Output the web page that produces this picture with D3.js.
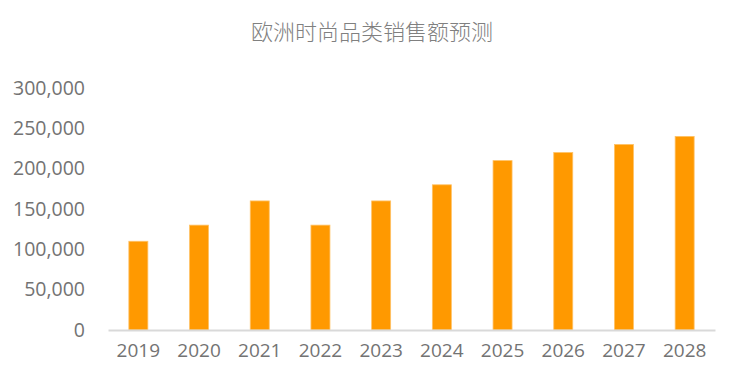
<!DOCTYPE html>
<html>
<head>
<meta charset="utf-8">
<script src="https://cdn.jsdelivr.net/npm/d3@7"></script>
<style>
  body { margin: 0; background: #fff; }
  svg text { font-family: "Open Sans", "Noto Sans", sans-serif; }
</style>
</head>
<body>
<svg id="chart" width="736" height="390"></svg>
<script>
// chart data
var years = ["2019", "2020", "2021", "2022", "2023", "2024", "2025", "2026", "2027", "2028"];
var sales = [110000, 130000, 160000, 130000, 160000, 180000, 210000, 220000, 230000, 240000];
var yTicks = [0, 50000, 100000, 150000, 200000, 250000, 300000];
var title = "欧洲时尚品类销售额预测";

var svg = d3.select("#chart");
var plotLeft = 108, plotRight = 715, plotTop = 88, plotBottom = 330;

var x = d3.scaleBand().domain(years).range([plotLeft, plotRight]).padding(0);
var y = d3.scaleLinear().domain([0, 300000]).range([plotBottom, plotTop]);

// title
svg.append("text")
  .attr("x", 372).attr("y", 40)
  .attr("text-anchor", "middle")
  .style("font-family", "'Noto Sans CJK SC', sans-serif")
  .style("font-size", "22px")
  .style("font-weight", "300")
  .style("fill", "#808080")
  .text(title);

// y axis (labels only)
var yAxis = svg.append("g")
  .attr("transform", "translate(" + (plotLeft - 23) + ",0)")
  .call(d3.axisLeft(y).tickValues(yTicks).tickSize(0).tickPadding(0).tickFormat(d3.format(",")));
yAxis.select(".domain").remove();
yAxis.selectAll("text")
  .style("font-size", "19.5px")
  .style("fill", "#737373");

// bars
var bw = 19;
svg.selectAll("rect.bar")
  .data(years)
  .enter()
  .append("rect")
  .attr("class", "bar")
  .attr("x", function(d) { return x(d) + x.bandwidth() / 2 - bw / 2; })
  .attr("y", function(d, i) { return y(sales[i]); })
  .attr("width", bw)
  .attr("height", function(d, i) { return plotBottom - y(sales[i]); })
  .attr("fill", "#ff9900")
  .attr("stroke", "#ffc266")
  .attr("stroke-width", 0.8);

// x axis
var xAxis = svg.append("g")
  .attr("transform", "translate(0," + plotBottom + ")")
  .call(d3.axisBottom(x).tickSize(0).tickPadding(14));
xAxis.select(".domain")
  .attr("stroke", "#d9d9d9")
  .attr("stroke-width", 2);
xAxis.selectAll("text")
  .style("font-size", "19px")
  .style("fill", "#737373");
</script>
</body>
</html>
